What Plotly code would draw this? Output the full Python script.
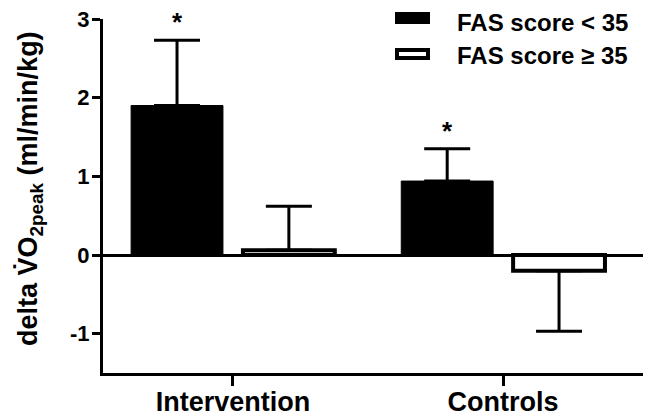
import plotly.graph_objects as go

categories = ["Intervention", "Controls"]
series_names = ["FAS score < 35", "FAS score \u2265 35"]
low_fas = [1.90, 0.94]
low_fas_err = [0.83, 0.41]
high_fas = [0.06, -0.20]
high_fas_err_up = [0.56, 0.0]
high_fas_err_down = [0.0, 0.77]
significant = [True, True]

FONT = "Liberation Sans, Arial, sans-serif"
PAGE = 8  # default body margin of the html page
W, H = 651 - PAGE, 418 - PAGE
ML, MR, MT, MB = 103 - PAGE, 2, 19 - PAGE, 45
BAR_W = 0.34
OFF = 0.207

fig = go.Figure()
fig.add_trace(go.Bar(
    x=categories, y=low_fas, name=series_names[0],
    width=BAR_W, offset=-OFF - BAR_W / 2,
    marker=dict(color="black", line=dict(color="black", width=1)),
    error_y=dict(type="data", array=low_fas_err, arrayminus=[0, 0],
                 symmetric=False, color="black", thickness=3, width=23),
    showlegend=False,
))
fig.add_trace(go.Bar(
    x=categories, y=high_fas, name=series_names[1],
    width=BAR_W, offset=OFF - BAR_W / 2,
    marker=dict(color="white", line=dict(color="black", width=4)),
    error_y=dict(type="data", array=high_fas_err_up, arrayminus=high_fas_err_down,
                 symmetric=False, color="black", thickness=3, width=23),
    showlegend=False,
))

PW, PH = W - ML - MR, H - MT - MB
# screen pixel -> paper coords
def px(x):
    return (x - PAGE - ML) / PW
def py(y):
    return (H - MB - (y - PAGE)) / PH

# significance asterisks
annotations = []
for i, (v, e, s) in enumerate(zip(low_fas, low_fas_err, significant)):
    if s:
        annotations.append(dict(x=i - OFF, y=v + e, xref="x", yref="y", text="<b>*</b>",
                                showarrow=False, yanchor="bottom", yshift=1,
                                font=dict(family=FONT, size=26, color="black")))

# y-axis title
annotations.append(dict(
    x=px(30), y=py(189), xref="paper", yref="paper",
    textangle=-90, xanchor="center", yanchor="middle",
    text="<b>delta V\u0307O<sub>2peak</sub> (ml/min/kg)</b>", showarrow=False,
    font=dict(family=FONT, size=27, color="black")))

shapes = [
    dict(type="rect", xref="paper", yref="paper", x0=px(395), x1=px(430), y0=py(24), y1=py(12),
         fillcolor="black", line=dict(color="black", width=0)),
    dict(type="rect", xref="paper", yref="paper", x0=px(397), x1=px(428), y0=py(58), y1=py(50),
         fillcolor="white", line=dict(color="black", width=4)),
]
for name, yc in zip(series_names, [22.5, 55.5]):
    annotations.append(dict(x=px(455), y=py(yc), xref="paper", yref="paper", text="<b>" + name + "</b>",
                            showarrow=False, xanchor="left", yanchor="middle",
                            font=dict(family=FONT, size=24, color="black")))

fig.update_layout(
    width=W, height=H,
    margin=dict(l=ML, r=MR, t=MT, b=MB, autoexpand=False),
    plot_bgcolor="white", paper_bgcolor="white",
    barmode="overlay",
    annotations=annotations, shapes=shapes,
    font=dict(family=FONT, color="black"),
)
fig.update_xaxes(
    type="category", range=[-0.481, 1.54], showline=True, linecolor="black", linewidth=3,
    ticks="outside", ticklen=10, tickwidth=3, tickcolor="black", showgrid=False, zeroline=False,
    automargin=False, ticklabeloverflow="allow", ticklabelstandoff=-7,
    tickfont=dict(family=FONT, size=27, color="black"),
    ticktext=["<b>" + c + "</b>" for c in categories], tickvals=categories,
)
fig.update_yaxes(
    range=[-1.5, 3], showline=True, linecolor="black", linewidth=3,
    ticks="outside", ticklen=8, tickwidth=3, tickcolor="black", showgrid=False,
    zeroline=True, zerolinecolor="black", zerolinewidth=3, automargin=False,
    ticklabeloverflow="allow", ticklabelstandoff=-2,
    tickvals=[-1, 0, 1, 2, 3], ticktext=["<b>-1</b>", "<b>0</b>", "<b>1</b>", "<b>2</b>", "<b>3</b>"],
    tickfont=dict(family=FONT, size=22, color="black"),
)
fig.write_html("out.html")
